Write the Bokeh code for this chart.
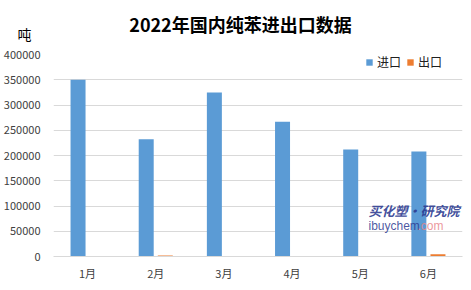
from bokeh.plotting import figure
from bokeh.models import FactorRange, Range1d, FixedTicker, Label, Legend, LegendItem, NumeralTickFormatter
from bokeh.transform import dodge
from bokeh.embed import file_html
from bokeh.resources import INLINE

months = ["1月", "2月", "3月", "4月", "5月", "6月"]
imports = [350000, 232000, 325000, 267000, 212000, 208000]
exports = [0, 2000, 0, 0, 0, 4500]
y_ticks = [0, 50000, 100000, 150000, 200000, 250000, 300000, 350000, 400000]

FONT = "Noto Sans CJK SC"

p = figure(width=471, height=290, x_range=FactorRange(*months), y_range=Range1d(0, 400000),
           output_backend="svg", toolbar_location=None,
           min_border_left=50, min_border_right=9, min_border_top=54, min_border_bottom=34)
p.outline_line_color = None
p.background_fill_color = "white"
p.border_fill_color = "white"

src = dict(month=months, imp=imports, exp=exports)
r1 = p.vbar(x=dodge("month", -0.14, range=p.x_range), top="imp", width=0.22, source=src,
            fill_color="#5b9bd5", line_color=None)
r2 = p.vbar(x=dodge("month", 0.14, range=p.x_range), top="exp", width=0.22, source=src,
            fill_color="#ed7d31", line_color=None)

p.xgrid.grid_line_color = None
p.ygrid.grid_line_color = "#d9d9d9"
p.ygrid.grid_line_width = 1

p.yaxis.ticker = FixedTicker(ticks=y_ticks)
p.yaxis.formatter = NumeralTickFormatter(format="0")
p.yaxis.axis_line_color = None
p.yaxis.major_tick_line_color = None
p.yaxis.minor_tick_line_color = None
p.yaxis.major_label_standoff = 7
p.yaxis.major_label_text_font = FONT
p.yaxis.major_label_text_font_size = "11px"
p.yaxis.major_label_text_color = "#404040"

p.xaxis.axis_line_color = "#d9d9d9"
p.xaxis.major_tick_line_color = None
p.xaxis.minor_tick_line_color = None
p.xaxis.major_label_standoff = 2
p.xaxis.major_label_text_font = FONT
p.xaxis.major_label_text_font_size = "11px"
p.xaxis.major_label_text_color = "#404040"

legend = Legend(items=[LegendItem(label="进口", renderers=[r1]), LegendItem(label="出口", renderers=[r2])],
                orientation="horizontal", location=(312, 186), glyph_width=8, glyph_height=8,
                label_height=16, label_standoff=4, spacing=5, padding=0, margin=0,
                label_text_font=FONT, label_text_font_size="12px", label_text_color="#202020",
                border_line_color=None, background_fill_alpha=0)
p.add_layout(legend, "center")

p.title.visible = False

p.add_layout(Label(x=-29, y=21, x_units="screen", y_units="screen", text="吨",
                   text_font=FONT, text_font_size="14px",
                   text_align="center", text_baseline="middle", text_color="#000000"), "above")
p.add_layout(Label(x=187, y=11, x_units="screen", y_units="screen", text="2022年国内纯苯进出口数据",
                   text_font=FONT, text_font_size="18px", text_font_style="bold",
                   text_align="center", text_baseline="middle", text_color="#000000"), "above")

p.add_layout(Label(x=315, y=46, x_units="screen", y_units="screen", text="买化塑·研究院",
                   text_font=FONT, text_font_size="13px", text_font_style="bold italic",
                   text_align="left", text_baseline="middle", text_color="#2b3990", text_alpha=0.9))
p.add_layout(Label(x=315, y=31, x_units="screen", y_units="screen", text="ibuychem",
                   text_font="Liberation Sans", text_font_size="12px",
                   text_align="left", text_baseline="middle", text_color="#2b3990", text_alpha=0.85))
p.add_layout(Label(x=364, y=31, x_units="screen", y_units="screen", text=".com",
                   text_font="Liberation Sans", text_font_size="12px",
                   text_align="left", text_baseline="middle", text_color="#e8858a", text_alpha=0.85))

open("out.html", "w").write(file_html(p, INLINE))
